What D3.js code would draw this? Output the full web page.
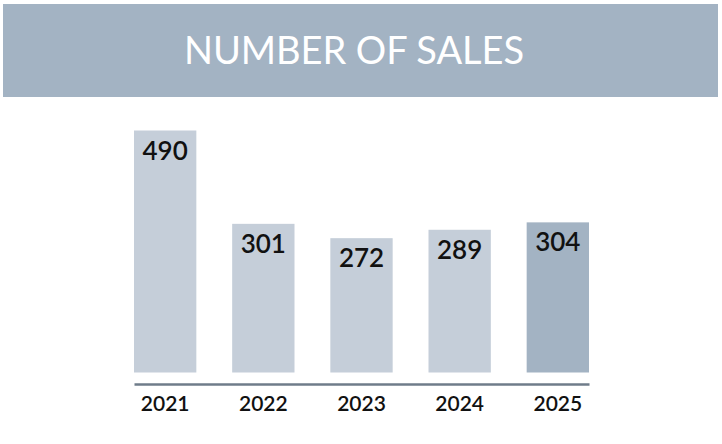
<!DOCTYPE html>
<html>
<head>
<meta charset="utf-8">
<script src="https://cdn.jsdelivr.net/npm/d3@7"></script>
<style>
	body { margin: 0; background: #fff; }
	svg { display: block; }
</style>
</head>
<body>
<div id="chart"></div>
<script>
var years = ["2021", "2022", "2023", "2024", "2025"];
var sales = [490, 301, 272, 289, 304];
var highlight = ["2025"];
var title = "NUMBER OF SALES";

var width = 722, height = 444;

var svg = d3.select("#chart").append("svg")
	.attr("width", width)
	.attr("height", height);

// header band
svg.append("rect")
	.attr("x", 3)
	.attr("y", 4)
	.attr("width", 715)
	.attr("height", 93)
	.style("fill", "#a3b3c3");

svg.append("text")
	.attr("x", 354)
	.attr("y", 64)
	.attr("text-anchor", "middle")
	.attr("textLength", 340)
	.style("font-family", "Lato, 'Open Sans', sans-serif")
	.style("font-size", "38px")
	.style("fill", "#fff")
	.text(title);

var x = d3.scaleBand()
	.domain(years)
	.range([134, 589])
	.paddingInner(0.365)
	.paddingOuter(0);

var y = d3.scaleLinear()
	.domain([0, 490])
	.range([372.5, 130.5]);

var bars = svg.append("g")
	.selectAll(".bar")
	.data(years)
	.enter().append("g")
	.attr("class", "bar");

bars.append("rect")
	.attr("x", function(d) { return x(d); })
	.attr("y", function(d, i) { return y(sales[i]); })
	.attr("width", x.bandwidth())
	.attr("height", function(d, i) { return y(0) - y(sales[i]); })
	.style("fill", function(d) {
		return highlight.indexOf(d) !== -1 ? "#a3b3c3" : "#c5ced9";
	});

bars.append("text")
	.attr("x", function(d) { return x(d) + x.bandwidth() / 2; })
	.attr("y", function(d, i) { return y(sales[i]) + 29; })
	.attr("text-anchor", "middle")
	.style("font-family", "Lato, sans-serif")
	.style("font-size", "26px")
	.style("font-weight", "600")
	.style("fill", "#111")
	.text(function(d, i) { return sales[i]; });

// axis
var axis = svg.append("g")
	.attr("transform", "translate(0,384)")
	.call(d3.axisBottom(x).tickSize(0).tickPadding(12));

axis.select(".domain")
	.attr("stroke", "#6f7c8a")
	.attr("stroke-width", 2.5);

axis.selectAll(".tick text")
	.attr("dy", "0")
	.attr("y", 27)
	.style("font-family", "Lato, sans-serif")
	.style("font-size", "21px")
	.style("font-weight", "600")
	.style("fill", "#111");
</script>
</body>
</html>
